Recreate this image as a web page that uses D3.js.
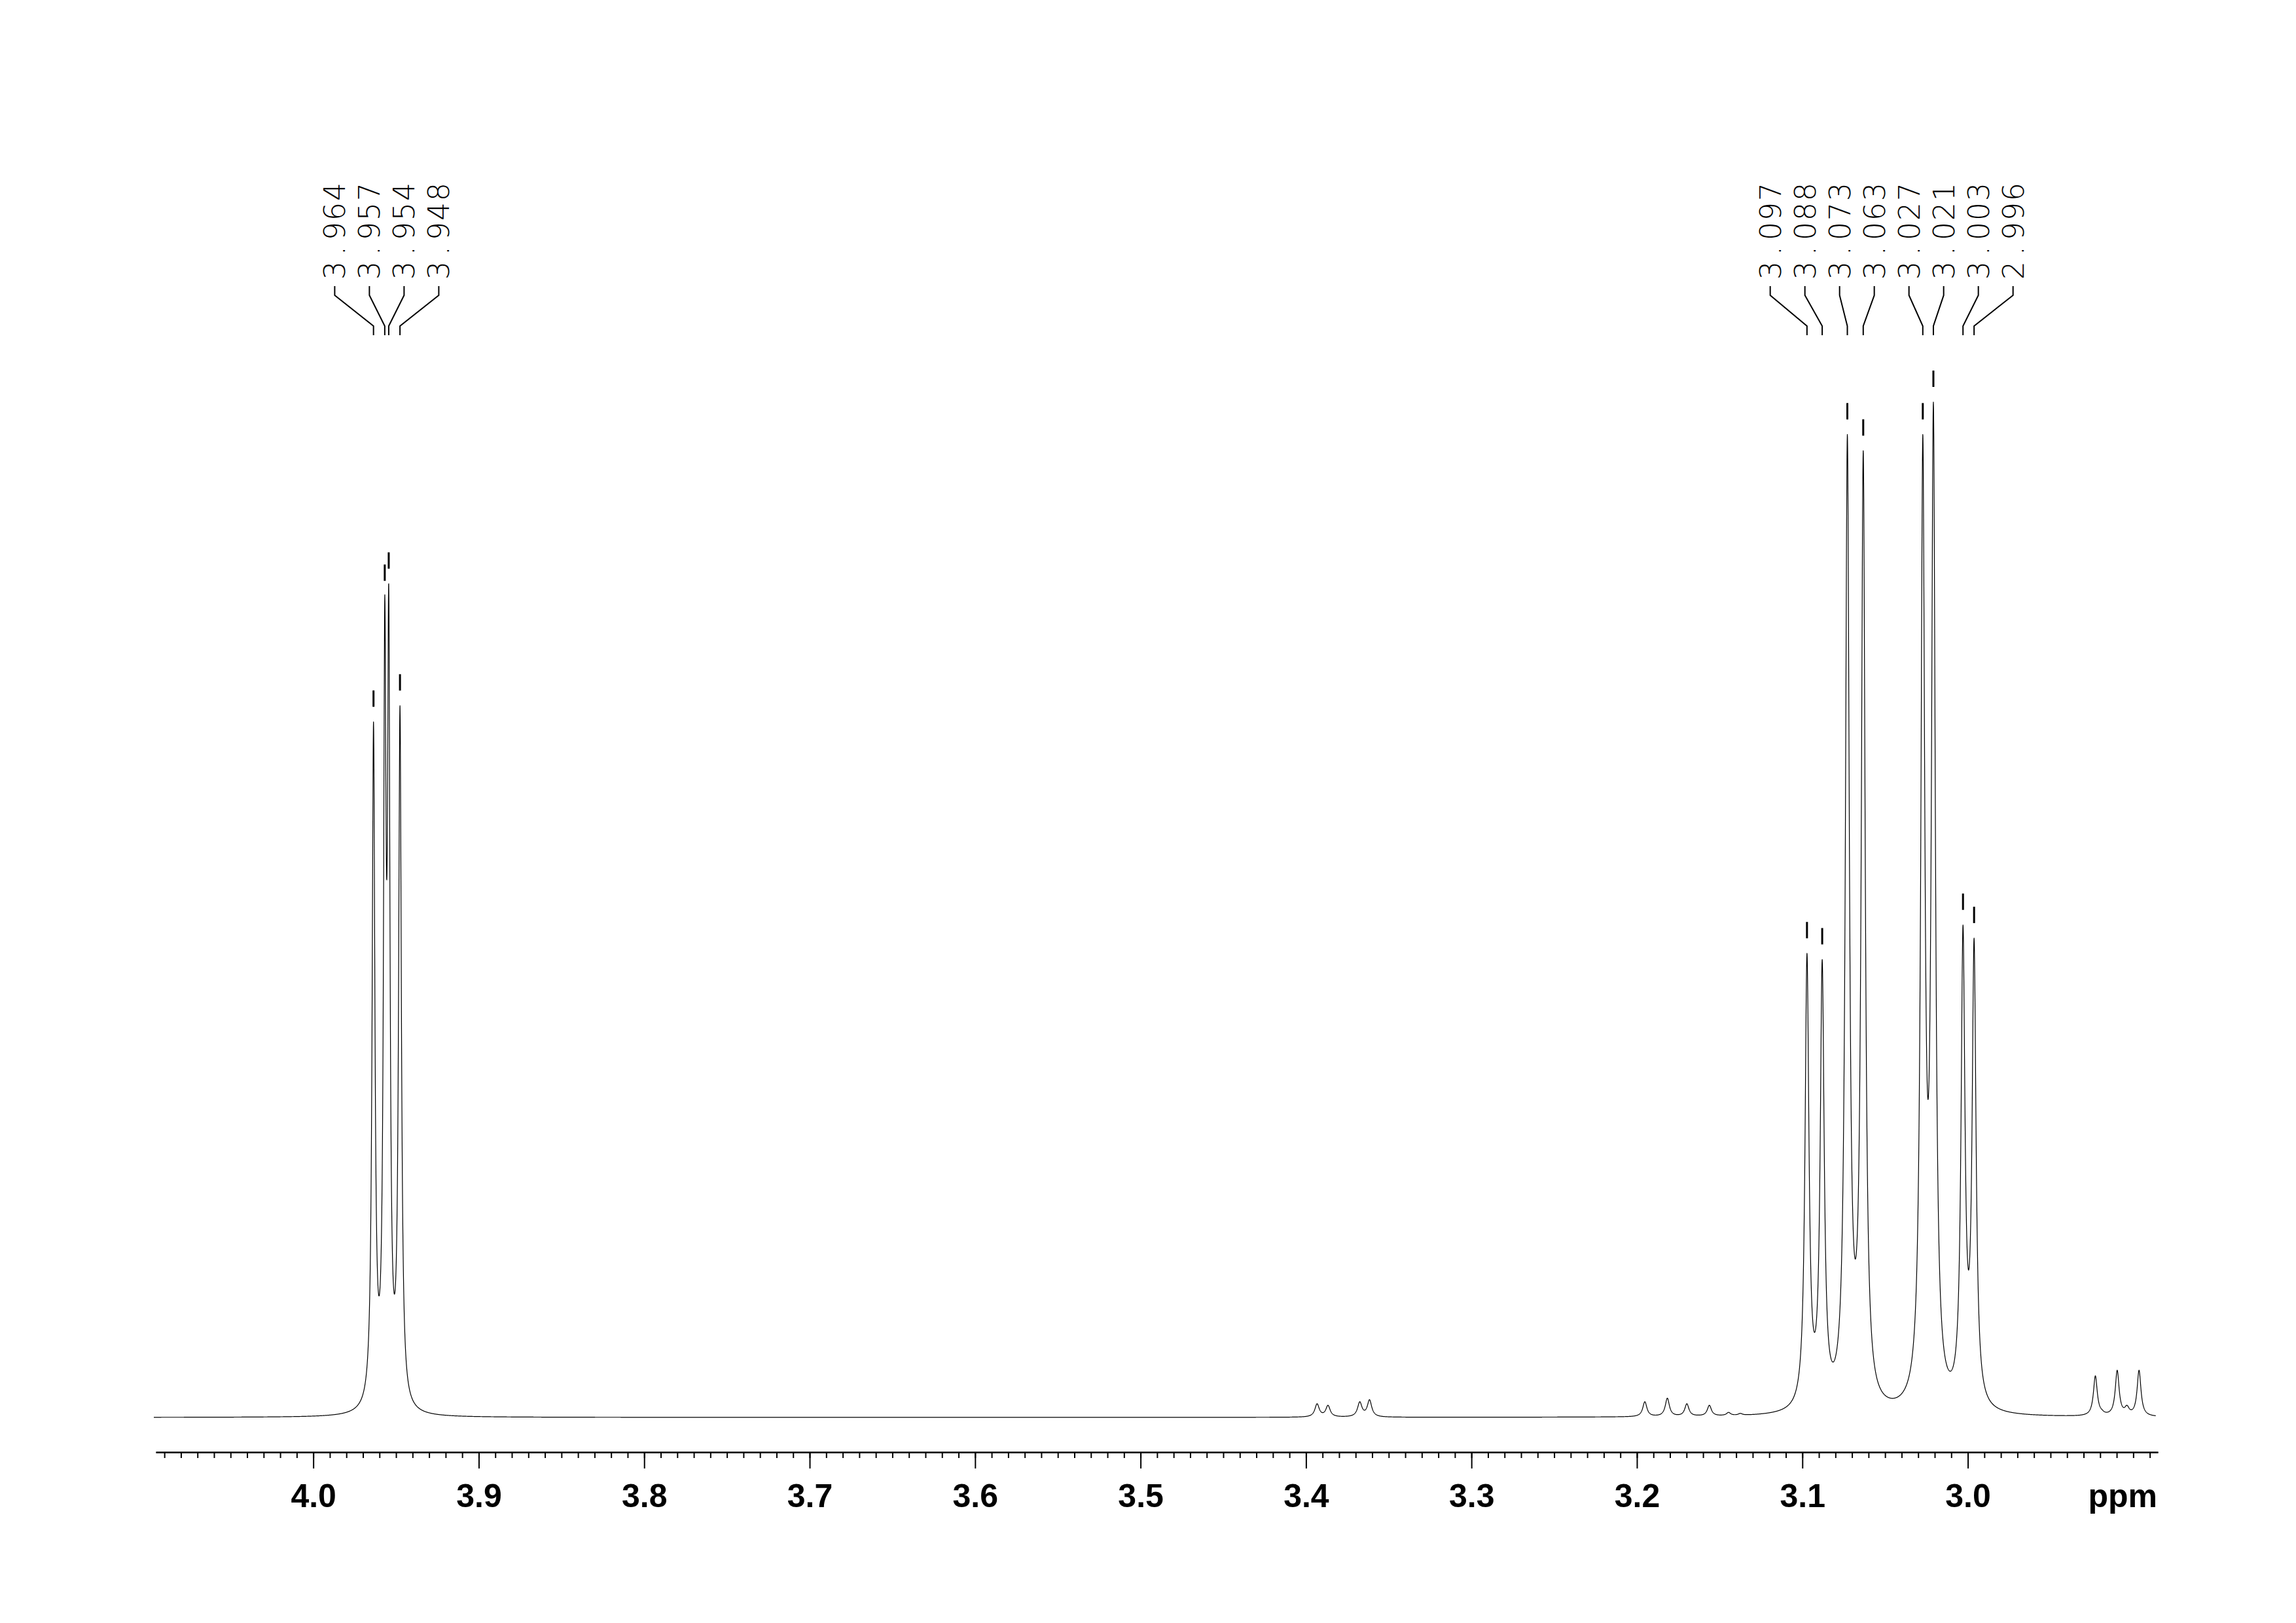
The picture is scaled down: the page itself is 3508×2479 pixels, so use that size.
<!DOCTYPE html>
<html>
<head>
<meta charset="utf-8">
<script src="https://cdn.jsdelivr.net/npm/d3@7"></script>
<style>
  html, body { margin: 0; padding: 0; background: #ffffff; }
  svg { display: block; }
</style>
</head>
<body>
<script>
// ---------------- DATA ----------------
// Labelled (picked) peaks: chemical shift (ppm), observed top height (relative, tallest = 100), half-width (ppm)
const peakPPM    = [3.9636, 3.9568, 3.9544, 3.9476, 3.0972, 3.0880, 3.0728, 3.0632, 3.0272, 3.0208, 3.0029, 2.9962];
const peakHeight = [68.5,   80.9,   82.1,   70.1,   45.7,   45.1,   96.8,   95.2,   96.8,   100.0,  48.5,   47.2];
const peakWidth  = [0.0010, 0.0009, 0.0009, 0.0010, 0.00142,0.00142,0.00142,0.00142,0.00142,0.00142,0.00142,0.00142];
const peakGroup  = [0, 0, 0, 0, 1, 1, 1, 1, 1, 1, 1, 1];
const peakLabels = ["3.964", "3.957", "3.954", "3.948", "3.097", "3.088", "3.073", "3.063", "3.027", "3.021", "3.003", "2.996"];

// Small unlabelled peaks (impurities / satellites)
const minorPPM    = [3.3933, 3.3867, 3.3675, 3.3616, 3.1952, 3.1816, 3.1698, 3.1562, 3.1446, 3.1375, 2.9229, 2.9190, 2.9097, 2.9038, 2.8965];
const minorHeight = [1.35,   1.2,    1.55,   1.75,   1.55,   1.9,    1.35,   1.2,    0.5,    0.4,    4.1,    0.8,    4.65,   1.2,    4.65];
const minorWidth  = [0.0016, 0.0016, 0.0016, 0.0016, 0.0015, 0.0015, 0.0015, 0.0015, 0.0015, 0.0015, 0.0014, 0.0016, 0.0014, 0.0016, 0.0014];

// Axis ticks
const majorTicks  = [4.0, 3.9, 3.8, 3.7, 3.6, 3.5, 3.4, 3.3, 3.2, 3.1, 3.0];
const majorLabels = ["4.0", "3.9", "3.8", "3.7", "3.6", "3.5", "3.4", "3.3", "3.2", "3.1", "3.0"];
const minorTicks  = d3.range(289, 410).map(d => d / 100);
const axisUnit    = "ppm";

// ---------------- LAYOUT ----------------
const W = 3508, H = 2479;
const svg = d3.select("body").append("svg").attr("width", W).attr("height", H)
  .attr("viewBox", `0 0 ${W} ${H}`);
svg.append("rect").attr("width", W).attr("height", H).attr("fill", "#fff");

const x = d3.scaleLinear().domain([4.0952, 2.8851]).range([238, 3297]);
const y = d3.scaleLinear().domain([0, 100]).range([2165, 614]);
const axisY = 2218;
const specStart = 4.0964, specEnd = 2.8863;

// ---------------- SPECTRUM (sum of Lorentzian lines) ----------------
const allPPM = peakPPM.concat(minorPPM);
const allH = peakHeight.concat(minorHeight);
const allW = peakWidth.concat(minorWidth);
const lor = (d, w) => 1 / (1 + (d / w) * (d / w));

// Solve amplitudes so the summed curve reaches the observed top heights
let amp = allH.slice();
for (let it = 0; it < 60; it++) {
  amp = allH.map((h, i) => {
    let s = 0;
    for (let j = 0; j < allPPM.length; j++) if (j !== i) s += amp[j] * lor(allPPM[i] - allPPM[j], allW[j]);
    return h - s;
  });
}
const spec = p => {
  let s = 0;
  for (let j = 0; j < allPPM.length; j++) s += amp[j] * lor(p - allPPM[j], allW[j]);
  return s;
};

const px0 = x(specStart), px1 = x(specEnd);
let samplePPM = d3.range(px0, px1, 0.25).map(v => x.invert(v)).concat(allPPM);
samplePPM.sort((a, b) => b - a);
const pts = samplePPM.map(p => ({ p, v: spec(p) }));

svg.append("path")
  .datum(pts)
  .attr("fill", "none")
  .attr("stroke", "#000")
  .attr("stroke-width", 1.2)
  .attr("stroke-linejoin", "round")
  .attr("d", d3.line().x(d => x(d.p)).y(d => y(d.v)));

// ---------------- PEAK MARKERS ----------------
svg.append("g").selectAll("line").data(peakPPM).join("line")
  .attr("x1", d => x(d)).attr("x2", d => x(d))
  .attr("y1", d => y(spec(d)) - 23)
  .attr("y2", d => y(spec(d)) - 48)
  .attr("stroke", "#000").attr("stroke-width", 3);

// ---------------- PEAK LABELS ----------------
const colPitch = 53;
const groups = d3.groups(peakPPM.map((p, i) => ({ p, i, g: peakGroup[i] })), d => d.g);
const labelG = svg.append("g");
groups.forEach(([g, items]) => {
  const cx = d3.mean(items, d => x(d.p));
  const n = items.length;
  items.forEach((d, k) => {
    const colX = cx + (k - (n - 1) / 2) * colPitch;
    const peakX = x(d.p);
    labelG.append("path")
      .attr("d", d3.line()([[colX, 437], [colX, 451], [peakX, 498], [peakX, 512]]))
      .attr("fill", "none").attr("stroke", "#000").attr("stroke-width", 2);
    const txt = peakLabels[d.i];
    labelG.append("text")
      .attr("transform", `translate(${colX + 16},423) rotate(-90)`)
      .attr("x", txt.split("").map((c, m) => 10 + m * 30).join(" "))
      .attr("y", 0)
      .attr("text-anchor", "middle")
      .attr("font-family", "'DejaVu Sans', 'DejaVu Sans Mono', sans-serif")
      .attr("font-weight", 200)
      .attr("font-size", 44)
      .attr("fill", "#000")
      .text(txt);
  });
});

// ---------------- AXIS ----------------
const minorAxisG = svg.append("g").attr("transform", `translate(0,${axisY})`)
  .call(d3.axisBottom(x).tickValues(minorTicks).tickSize(9).tickSizeOuter(0).tickFormat(""));
const majorAxisG = svg.append("g").attr("transform", `translate(0,${axisY})`)
  .call(d3.axisBottom(x).tickValues(majorTicks).tickSize(25).tickSizeOuter(0)
    .tickFormat((d, i) => majorLabels[i]));
[minorAxisG, majorAxisG].forEach(g => {
  g.select(".domain").attr("stroke", "#000").attr("stroke-width", 2.2);
  g.selectAll(".tick line").attr("stroke", "#000").attr("stroke-width", 2);
});
majorAxisG.selectAll(".tick text")
  .attr("y", 84).attr("dy", null)
  .attr("font-family", "'Liberation Sans', Arial, sans-serif")
  .attr("font-weight", "bold")
  .attr("font-size", 50)
  .attr("fill", "#000");

svg.append("text")
  .attr("x", 3296).attr("y", axisY + 84)
  .attr("text-anchor", "end")
  .attr("font-family", "'Liberation Sans', Arial, sans-serif")
  .attr("font-weight", "bold")
  .attr("font-size", 50)
  .attr("fill", "#000")
  .text(axisUnit);
</script>
</body>
</html>
